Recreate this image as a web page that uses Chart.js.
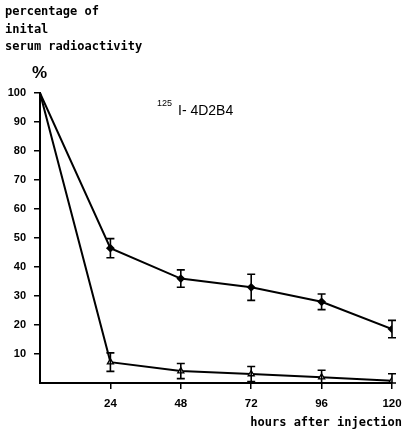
<!DOCTYPE html>
<html>
<head>
<meta charset="utf-8">
<script src="https://cdn.jsdelivr.net/npm/chart.js@4"></script>
<style>
  html, body { margin: 0; padding: 0; background: #fff; }
  #wrap { width: 404px; height: 435px; position: relative; }
</style>
</head>
<body>
<div id="wrap"><canvas id="myChart" width="404" height="435"></canvas></div>
<script>
// hours after injection
var hours = [0, 24, 48, 72, 96, 120];
// upper curve (filled markers)
var upper = [100, 46.5, 36, 33, 28, 18.6];
var upperErr = [0, 3.3, 3, 4.5, 2.7, 3];
// lower curve (open triangles)
var lower = [100, 7.2, 4.1, 3.1, 2, 0.8];
var lowerErr = [0, 3.2, 2.6, 2.6, 2.4, 2.4];

var yTicks = [10, 20, 30, 40, 50, 60, 70, 80, 90, 100];
var xTicks = [24, 48, 72, 96, 120];

function pts(vals) {
    return hours.map(function (h, i) { return { x: h, y: vals[i] }; });
}

// error bars drawn through the chart's own scales
var errorBars = {
    id: 'errorBars',
    afterDatasetsDraw: function (chart) {
        var c = chart.ctx;
        var xs = chart.scales.x, ys = chart.scales.y;
        c.save();
        c.strokeStyle = '#000';
        c.lineWidth = 1.6;
        chart.data.datasets.forEach(function (ds) {
            ds.data.forEach(function (p, i) {
                var e = ds.errors[i];
                if (!e) return;
                var x = xs.getPixelForValue(p.x);
                var y1 = ys.getPixelForValue(p.y + e);
                var y2 = ys.getPixelForValue(Math.max(p.y - e, 0));
                c.beginPath();
                c.moveTo(x, y1); c.lineTo(x, y2);
                c.moveTo(x - 4, y1); c.lineTo(x + 4, y1);
                c.moveTo(x - 4, y2); c.lineTo(x + 4, y2);
                c.stroke();
            });
        });
        c.restore();
    }
};

// axis titles and label
var texts = {
    id: 'texts',
    afterDraw: function (chart) {
        var c = chart.ctx;
        c.save();
        c.fillStyle = '#000';
        c.textBaseline = 'middle';
        c.font = 'bold 12px "DejaVu Sans Mono"';
        c.fillText('percentage of', 5, 12);
        c.fillText('inital', 5, 30);
        c.fillText('serum radioactivity', 5, 47);
        c.textAlign = 'right';
        c.fillText('hours after injection', 402, 423);
        c.textAlign = 'left';
        c.font = 'bold 17px "Liberation Sans"';
        c.fillText('%', 32, 73);
        c.font = '9px "Liberation Sans"';
        c.fillText('125', 157, 104);
        c.font = '14px "Liberation Sans"';
        c.fillText('I- 4D2B4', 178, 111);
        c.restore();
    }
};

var ctx = document.getElementById('myChart').getContext('2d');
var myChart = new Chart(ctx, {
    type: 'line',
    data: {
        datasets: [{
            data: pts(upper),
            errors: upperErr,
            borderColor: '#000',
            backgroundColor: '#000',
            borderWidth: 2,
            pointStyle: 'rectRot',
            pointRadius: [0, 3, 3, 3, 3, 3],
            tension: 0
        }, {
            data: pts(lower),
            errors: lowerErr,
            borderColor: '#000',
            backgroundColor: '#fff',
            borderWidth: 2,
            pointStyle: 'triangle',
            pointBorderWidth: 1.3,
            pointRadius: [0, 3.5, 3.5, 3.5, 3.5, 3.5],
            tension: 0
        }]
    },
    options: {
        responsive: false,
        animation: false,
        layout: { padding: { top: 93, right: 12, left: 0, bottom: 0 } },
        plugins: { legend: { display: false }, tooltip: { enabled: false } },
        scales: {
            x: {
                type: 'linear',
                min: 0,
                max: 120,
                afterBuildTicks: function (s) {
                    s.ticks = xTicks.map(function (v) { return { value: v }; });
                },
                afterFit: function (s) { s.height = 52; s.paddingRight = 0; s.paddingLeft = 0; },
                ticks: {
                    color: '#000',
                    font: { family: 'Liberation Sans', size: 11.5, weight: 'bold' },
                    padding: 8,
                    maxRotation: 0
                },
                grid: { drawOnChartArea: false, drawTicks: true, tickLength: 6, color: '#000', lineWidth: 1.5 },
                border: { display: true, color: '#000', width: 2 }
            },
            y: {
                min: 0,
                max: 100,
                afterBuildTicks: function (s) {
                    s.ticks = yTicks.map(function (v) { return { value: v }; });
                },
                afterFit: function (s) { s.width = 40; s.paddingTop = 0; s.paddingBottom = 0; },
                ticks: {
                    color: '#000',
                    font: { family: 'Liberation Sans', size: 11, weight: 'bold' },
                    padding: 8
                },
                grid: { drawOnChartArea: false, drawTicks: true, tickLength: 6, color: '#000', lineWidth: 1.5 },
                border: { display: true, color: '#000', width: 2 }
            }
        }
    },
    plugins: [errorBars, texts]
});
</script>
</body>
</html>
